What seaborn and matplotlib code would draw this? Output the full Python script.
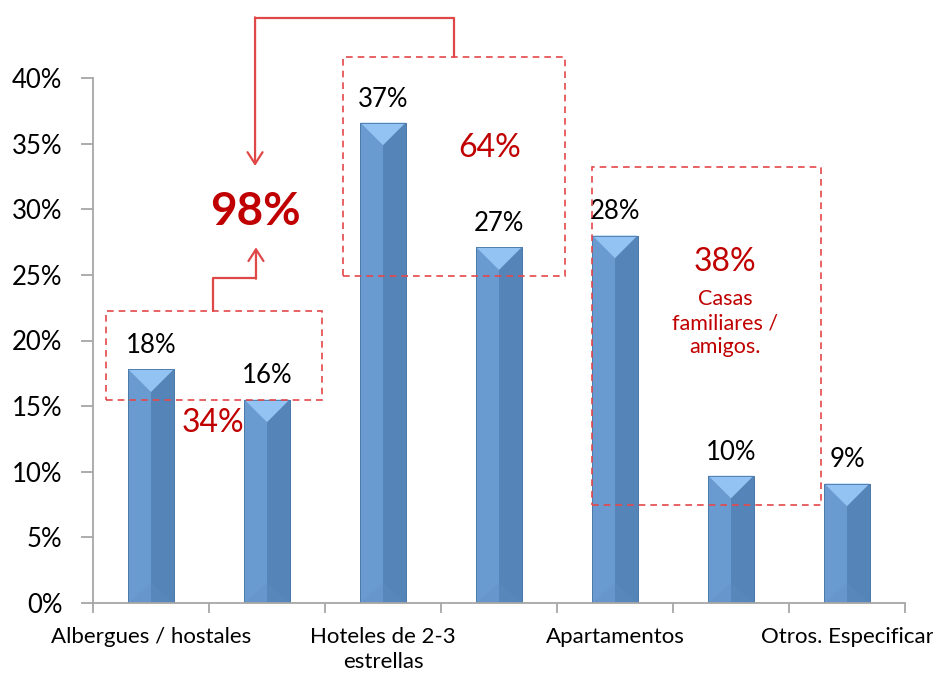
import numpy as np
import pandas as pd
import matplotlib
matplotlib.use("Agg")
import matplotlib.pyplot as plt
import seaborn as sns
from matplotlib.patches import Rectangle, Polygon
from matplotlib.ticker import PercentFormatter

# ---- data ----
categories = ["Albergues / hostales", "Albergues / hostales b", "Hoteles de 2-3\nestrellas",
              "Hoteles b", "Apartamentos", "Apartamentos b", "Otros. Especificar"]
values = [17.8, 15.5, 36.6, 27.1, 28.0, 9.7, 9.1]
value_labels = ["18%", "16%", "37%", "27%", "28%", "10%", "9%"]
tick_positions = [0, 2, 4, 6]
tick_labels = ["Albergues / hostales", "Hoteles de 2-3\nestrellas", "Apartamentos", "Otros. Especificar"]
group_labels = ["98%", "64%", "34%", "38%"]
group_note = "Casas\nfamiliares /\namigos."

sns.set_theme(style="white")
plt.rcParams['font.family'] = ['Lato', 'DejaVu Sans']

fig = plt.figure(figsize=(9.33, 6.73), dpi=100)
ax = fig.add_axes([93/933, 1-603/673, (905-93)/933, (603-78)/673])

df = pd.DataFrame({"cat": categories, "val": values})
sns.barplot(data=df, x="cat", y="val", color="#6A9BD0", width=0.39, ax=ax,
            saturation=1, edgecolor="#4A78A8", linewidth=0.6)

ax.set_xlim(-0.5, 6.5)
ax.set_ylim(0, 40)
ax.set_yticks(np.arange(0, 41, 5))
ax.yaxis.set_major_formatter(PercentFormatter(decimals=0))
ax.set_xticks(tick_positions)
ax.set_xticklabels(tick_labels, linespacing=1.35)
ax.set_xticks(np.arange(-0.5, 7, 1), minor=True)
ax.set_xlabel("")
ax.set_ylabel("")

for s in ["top", "right"]:
    ax.spines[s].set_visible(False)
for s in ["left", "bottom"]:
    ax.spines[s].set_color("#A6A6A6")
    ax.spines[s].set_linewidth(1.3)

ax.tick_params(axis="y", which="major", left=True, length=9, width=1.3, color="#A6A6A6",
               labelsize=18.5, pad=13, labelcolor="black")
ax.tick_params(axis="x", which="major", bottom=False, length=0, labelsize=16, pad=17,
               labelcolor="black")
ax.tick_params(axis="x", which="minor", bottom=True, length=7, width=1.3, color="#A6A6A6")

# bevel decoration derived from each bar's geometry
fig.canvas.draw()
px_per_y = (ax.transData.transform((0, 1))[1] - ax.transData.transform((0, 0))[1])
px_per_x = (ax.transData.transform((1, 0))[0] - ax.transData.transform((0, 0))[0])
for p in ax.patches:
    x0, w, h = p.get_x(), p.get_width(), p.get_height()
    xc = x0 + w / 2
    ax.add_patch(Rectangle((xc, 0), w / 2, h, facecolor="#5584B8", edgecolor="none", zorder=p.get_zorder() + 0.1))
    depth = (w / 2) * px_per_x / px_per_y
    ax.add_patch(Polygon([(x0, h), (x0 + w, h), (xc, h - depth)], closed=True,
                         facecolor="#93C3F2", edgecolor="none", zorder=p.get_zorder() + 0.2))
    ax.add_patch(Polygon([(x0, 0), (x0 + w, 0), (xc, depth * 0.9)], closed=True,
                         facecolor="#5F8FC4", edgecolor="none", alpha=0.35, zorder=p.get_zorder() + 0.15))
    ax.add_patch(Rectangle((x0, 0), w, h, facecolor="none", edgecolor="#4A78A8", lw=0.6,
                           zorder=p.get_zorder() + 0.3))

ax.bar_label(ax.containers[0], labels=value_labels, padding=8, fontsize=18.5, color="black")

# dashed group boxes
box_style = dict(fill=False, edgecolor="#E5484A", lw=1.2, linestyle=(0, (4, 3)), clip_on=False, zorder=5)
ax.add_patch(Rectangle((-0.39, 15.5), 1.86, 6.75, **box_style))
ax.add_patch(Rectangle((1.655, 24.9), 1.915, 16.7, **box_style))
ax.add_patch(Rectangle((3.80, 7.47), 1.98, 25.73, **box_style))

red = "#C00000"
line_red = "#E04848"
ax.text(0.90, 29.8, group_labels[0], color=red, fontsize=33, fontweight="bold", ha="center", va="center")
ax.text(2.92, 34.7, group_labels[1], color=red, fontsize=23, ha="center", va="center")
ax.text(0.534, 13.7, group_labels[2], color=red, fontsize=23, ha="center", va="center")
ax.text(4.95, 26.0, group_labels[3], color=red, fontsize=23, ha="center", va="center")
ax.text(4.95, 21.3, group_note, color=red, fontsize=15.5, ha="center", va="center", linespacing=1.25)

# connectors
ax.plot([0.534, 0.534, 0.905], [22.25, 24.76, 24.76], color=line_red, lw=1.6, clip_on=False, zorder=5)
ax.annotate("", xy=(0.905, 27.1), xytext=(0.905, 24.7),
            arrowprops=dict(arrowstyle="->,head_length=0.7,head_width=0.45", color=line_red, lw=1.6,
                            shrinkA=0, shrinkB=0), annotation_clip=False)
ax.plot([2.612, 2.612, 0.897], [41.6, 44.57, 44.57], color=line_red, lw=1.6, clip_on=False, zorder=5)
ax.annotate("", xy=(0.897, 33.3), xytext=(0.897, 44.62),
            arrowprops=dict(arrowstyle="->,head_length=0.7,head_width=0.45", color=line_red, lw=1.6,
                            shrinkA=0, shrinkB=0), annotation_clip=False)

fig.savefig("out.png", dpi=100)
